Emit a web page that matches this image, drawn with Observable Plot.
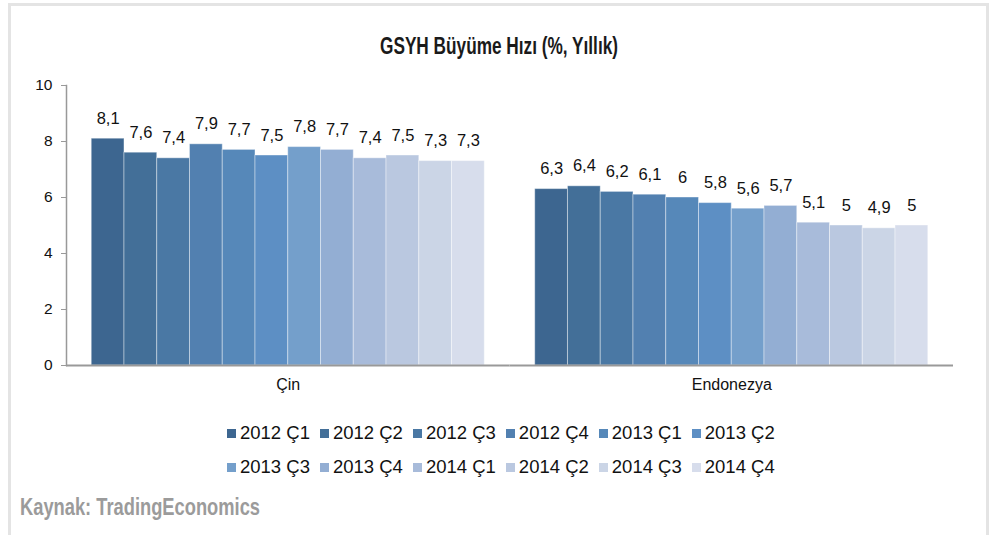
<!DOCTYPE html>
<html>
<head>
<meta charset="utf-8">
<script src="https://cdn.jsdelivr.net/npm/d3@7"></script>
<script src="https://cdn.jsdelivr.net/npm/@observablehq/plot@0.6"></script>
<style>
  html, body { margin: 0; padding: 0; background: #fff; }
  body { width: 993px; height: 535px; position: relative; overflow: hidden; font-family: "Liberation Sans", Arial, sans-serif; }
  #frame { position: absolute; left: 8px; top: 3px; width: 975px; height: 560px; border: 3px solid #e4e4e4; }
  #title { position: absolute; left: 499px; top: 32px; font-family: "Liberation Sans", Arial, sans-serif; font-weight: bold; font-size: 24px; color: #1a1a1a; white-space: nowrap; transform-origin: 0 0; }
  #chart { position: absolute; left: 0; top: 0; }
  #chart svg, #chart svg text { font-family: "Liberation Sans", Arial, sans-serif; }
  #legend { position: absolute; left: 227px; top: 416px; }
  .row { display: flex; height: 34px; align-items: center; }
  .item { display: flex; align-items: center; margin-right: 10px; font-size: 18.5px; color: #111; white-space: nowrap; }
  .sw { width: 9px; height: 9px; margin-right: 4px; }
  #caption { position: absolute; left: 20px; top: 493px; font-family: "Liberation Sans", Arial, sans-serif; font-weight: bold; font-size: 24px; color: #9b9b9b; white-space: nowrap; transform-origin: 0 0; }
</style>
</head>
<body>
<div id="frame"></div>
<div id="title"></div>
<div id="chart"></div>
<div id="legend"></div>
<div id="caption"></div>
<script>
const titleText = "GSYH Büyüme Hızı (%, Yıllık)";
const captionText = "Kaynak: TradingEconomics";
const countries = ["Çin", "Endonezya"];
const quarters = ["2012 Ç1","2012 Ç2","2012 Ç3","2012 Ç4","2013 Ç1","2013 Ç2","2013 Ç3","2013 Ç4","2014 Ç1","2014 Ç2","2014 Ç3","2014 Ç4"];
const cinValues = [8.1, 7.6, 7.4, 7.9, 7.7, 7.5, 7.8, 7.7, 7.4, 7.5, 7.3, 7.3];
const endonezyaValues = [6.3, 6.4, 6.2, 6.1, 6.0, 5.8, 5.6, 5.7, 5.1, 5.0, 4.9, 5.0];
const yTicks = [0, 2, 4, 6, 8, 10];
const colors = ["#3d6690","#436f98","#4a78a4","#5280b0","#5688b9","#5d8fc4","#749fcb","#93aed3","#a8bbda","#bac8e0","#cbd5e6","#d7ddec"];
const legendRows = [quarters.slice(0, 6), quarters.slice(6)];

const data = [];
countries.forEach((c, ci) => {
  const vals = ci === 0 ? cinValues : endonezyaValues;
  quarters.forEach((q, qi) => data.push({country: c, quarter: q, value: vals[qi]}));
});
const fmt = v => String(v).replace(".", ",");

// condensed look: scale real text horizontally
function condense(el, text, targetWidth, centered) {
  el.textContent = text;
  const w = el.getBoundingClientRect().width;
  const s = targetWidth / w;
  el.style.transform = centered ? `translateX(${-targetWidth / 2}px) scaleX(${s})` : `scaleX(${s})`;
}
condense(document.getElementById("title"), titleText, 238, true);
condense(document.getElementById("caption"), captionText, 240, false);

const plot = Plot.plot({
  width: 993,
  height: 400,
  marginTop: 85,
  marginBottom: 35,
  marginLeft: 66,
  marginRight: 40,
  style: {fontFamily: "'Liberation Sans', Arial, sans-serif", fontSize: "15px", color: "#111", background: "transparent"},
  fx: {domain: countries, padding: 0, round: false, label: null},
  x: {domain: quarters, paddingInner: 0, paddingOuter: 0.77, round: false, axis: null},
  y: {domain: [0, 10], ticks: yTicks},
  color: {domain: quarters, range: colors},
  marks: [
    Plot.barY(data, {fx: "country", x: "quarter", y: "value", fill: "quarter", stroke: "white", strokeOpacity: 0.4, strokeWidth: 1}),
    Plot.text(data, {fx: "country", x: "quarter", y: "value", text: d => fmt(d.value), lineAnchor: "bottom", dy: -15, fontSize: 16.5, fill: "#111"}),
    Plot.ruleY([0], {stroke: "#999", strokeWidth: 2}),
    Plot.frame({anchor: "left", stroke: "#999", strokeWidth: 1.5, facet: "super"}),
    Plot.axisY({ticks: yTicks, tickSize: 5, tickPadding: 9, label: null, stroke: "#999", fill: "#111", fontSize: 15.5}),
    Plot.axisFx({anchor: "bottom", tickSize: 0, tickPadding: 13, label: null, fontSize: 16, fill: "#111"})
  ]
});
document.getElementById("chart").appendChild(plot);

const legend = document.getElementById("legend");
legendRows.forEach(row => {
  const r = document.createElement("div");
  r.className = "row";
  row.forEach(q => {
    const it = document.createElement("div");
    it.className = "item";
    const sw = document.createElement("span");
    sw.className = "sw";
    sw.style.background = colors[quarters.indexOf(q)];
    const t = document.createElement("span");
    t.textContent = q;
    it.appendChild(sw); it.appendChild(t);
    r.appendChild(it);
  });
  legend.appendChild(r);
});
</script>
</body>
</html>
